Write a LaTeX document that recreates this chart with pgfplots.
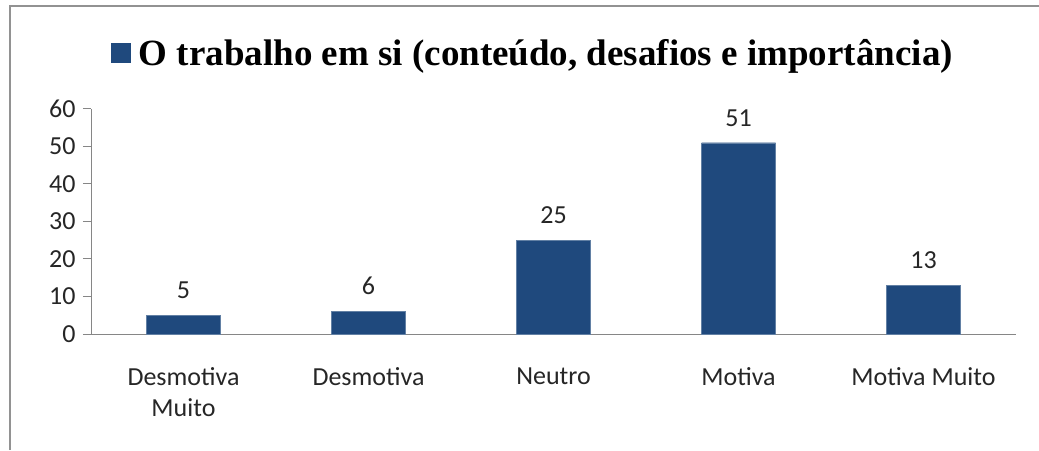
\documentclass[border=0pt]{standalone}
\usepackage{fontspec}
\setmainfont{Carlito}
\newfontfamily\legfont{Liberation Serif}
\usepackage{pgfplots}
\pgfplotsset{compat=1.18}
\definecolor{barblue}{HTML}{1F497D}
\definecolor{axgray}{HTML}{868686}

\begin{document}
\begin{tikzpicture}[x=1pt,y=1pt]
\path[use as bounding box] (0,0) rectangle (1039,450);
\draw[color=axgray!90, line width=2.2pt] (10,0) -- (10,444) -- (1039,444);
\begin{axis}[
  at={(91pt,116pt)}, anchor=south west,
  scale only axis, width=925pt, height=225pt,
  xmin=-0.5, xmax=4.5, ymin=0, ymax=60,
  ybar, bar width=74pt,
  axis x line*=bottom, axis y line*=left,
  axis line style={axgray, line width=1pt},
  ytick={0,10,...,60},
  xtick={0,...,4},
  xticklabels={{Desmotiva\\Muito},Desmotiva,Neutro,Motiva,Motiva Muito},
  major x tick style={draw=none},
  extra x ticks={-0.5,0.5,1.5,2.5,3.5,4.5},
  extra x tick labels={},
  extra x tick style={tick style={axgray, line width=1pt}, major tick length=8pt},
  tick align=outside, major tick length=8pt,
  y tick style={axgray, line width=1pt},
  tick label style={font=\fontsize{26}{31}\selectfont, text=black!85},
  xticklabel style={align=center, yshift=-22pt},
  yticklabel style={xshift=-4pt},
  /pgf/number format/assume math mode=true,
  nodes near coords,
  every node near coord/.append style={font=\fontsize{26}{27}\selectfont, text=black!85, yshift=13pt},
  legend style={at={(axis description cs:0.478,1.25)}, anchor=center, draw=none,
    font=\legfont\bfseries\fontsize{37}{40}\selectfont, legend cell align=left},
  legend image code/.code={\fill[barblue] (0pt,-9.5pt) rectangle (19pt,9.5pt); \path (25pt,0pt);},
]
\addplot[fill=barblue, draw=barblue!70!white] coordinates {(0,5) (1,6) (2,25) (3,51) (4,13)};
\addlegendentry{O trabalho em si (conteúdo, desafios e importância)}
\end{axis}
\end{tikzpicture}
\end{document}
